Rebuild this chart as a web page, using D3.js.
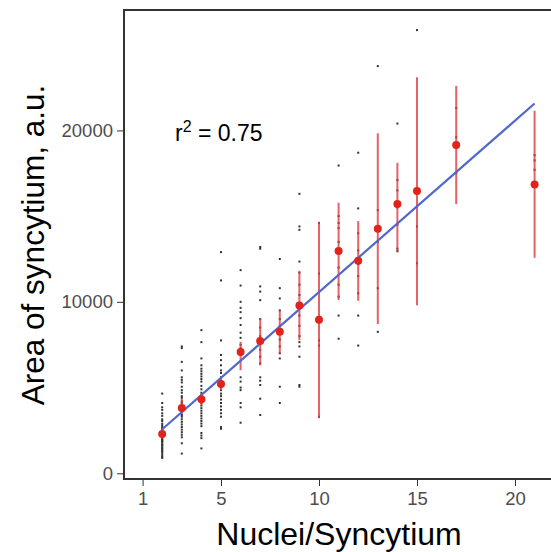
<!DOCTYPE html>
<html>
<head>
<meta charset="utf-8">
<script src="https://cdn.jsdelivr.net/npm/d3@7"></script>
<style>
  body { margin: 0; background: #fff; }
  text { font-family: 'Liberation Sans', Arial, sans-serif; }
</style>
</head>
<body>
<div id="chart"></div>
<script>
// nuclei per syncytium (x groups)
const nuclei = [2, 3, 4, 5, 6, 7, 8, 9, 10, 11, 12, 13, 14, 15, 17, 21]

// group means and error bar ends
const means = [2290, 3810, 4320, 5210, 7080, 7720, 8250, 9790, 8950, 12960, 12390, 14260, 15700, 16460, 19150, 16850]
const errLow = [2050, 3480, 3970, 4850, 6010, 6300, 6990, 7760, 3210, 10100, 10060, 8700, 12920, 9800, 15700, 12570]
const errHigh = [2550, 4360, 4650, 5620, 7670, 9030, 9480, 11810, 14670, 15780, 14710, 19830, 18110, 23100, 22590, 21150]

// raw syncytium areas, one list per group
const rawAreas = [
  [4650, 4100, 3850, 3700, 3500, 3350, 3150, 3050, 2900, 2800, 2700, 2600, 2500, 2450, 2350, 2300, 2200, 2150, 2100, 2000, 1950, 1900, 1850, 1800, 1700, 1650, 1600, 1500, 1450, 1400, 1300, 1250, 1150, 1050, 950, 900],
  [7400, 7300, 6500, 6000, 5600, 5450, 5300, 5050, 4850, 4700, 4500, 4400, 4200, 4100, 3950, 3800, 3700, 3550, 3400, 3300, 3150, 3000, 2850, 2700, 2550, 2400, 2250, 2100, 1750, 1150],
  [8350, 7650, 6700, 6300, 6100, 5950, 5800, 5650, 5500, 5350, 5100, 4900, 4700, 4550, 4400, 4250, 4100, 3950, 3800, 3650, 3500, 3350, 3200, 3050, 2900, 2750, 2350, 2200, 2050, 1450],
  [12900, 11250, 7750, 6900, 6600, 6300, 6000, 5850, 5600, 5400, 5200, 5000, 4850, 4650, 4500, 4300, 4100, 3900, 3700, 3500, 3300, 2700, 2600],
  [11850, 10950, 10000, 9650, 9400, 9050, 8650, 8200, 7900, 7500, 7300, 5600, 5350, 5000, 4850, 4100, 3850, 2950],
  [13200, 13100, 10900, 10600, 10100, 9000, 8500, 8000, 7700, 7200, 6800, 6400, 5600, 5400, 5150, 4350, 3400],
  [12500, 10800, 10200, 9500, 9000, 8600, 8200, 7800, 7400, 7000, 6700, 5050, 4100],
  [16300, 14400, 14200, 12350, 11700, 11000, 10400, 9800, 9200, 8600, 8000, 7650, 7400, 6800, 5150, 5050],
  [14600, 11650, 9000, 7750, 7450, 3300],
  [17950, 15000, 14600, 14300, 13500, 12900, 12000, 11000, 10300, 9200, 7850],
  [18700, 15450, 14000, 13000, 12200, 11500, 10500, 9200, 7450],
  [23750, 15350, 13500, 10800, 8250],
  [20400, 17100, 16500, 15500, 14500, 13100, 12950],
  [25850, 15550, 14400, 12250],
  [21300, 19600, 17500],
  [18550, 18250, 17700]
]

// linear fit
const fitIntercept = 570
const fitSlope = 1000
const rSquared = '0.75'

const xTicks = [1, 5, 10, 15, 20]
const yTicks = [0, 10000, 20000]

const width = 551
const height = 552
const panel = { left: 124, top: 10, right: 560, bottom: 479 }

const svg = d3
  .select('#chart')
  .append('svg')
  .attr('width', width)
  .attr('height', height)

const xPositionScale = d3
  .scaleLinear()
  .domain([1, 20])
  .range([142.6, 515])

const yPositionScale = d3
  .scaleLinear()
  .domain([0, 20000])
  .range([473.3, 130.4])

// raw points
const rawPoints = []
rawAreas.forEach(function(list, i) {
  list.forEach(function(v) {
    rawPoints.push({ n: nuclei[i], area: v })
  })
})

svg
  .selectAll('.raw')
  .data(rawPoints)
  .enter()
  .append('rect')
  .attr('class', 'raw')
  .attr('x', d => xPositionScale(d.n) - 1)
  .attr('y', d => yPositionScale(d.area) - 1)
  .attr('width', 2)
  .attr('height', 2)
  .attr('fill', '#333')

const groups = nuclei.map(function(n, i) {
  return { n: n, mean: means[i], lo: errLow[i], hi: errHigh[i] }
})

// error bars
svg
  .selectAll('.err')
  .data(groups)
  .enter()
  .append('line')
  .attr('class', 'err')
  .attr('x1', d => xPositionScale(d.n))
  .attr('x2', d => xPositionScale(d.n))
  .attr('y1', d => yPositionScale(d.lo))
  .attr('y2', d => yPositionScale(d.hi))
  .attr('stroke', '#df3b42')
  .attr('stroke-opacity', 0.8)
  .attr('stroke-width', 2)

// fit line
svg
  .append('line')
  .attr('x1', xPositionScale(nuclei[0]))
  .attr('y1', yPositionScale(fitIntercept + fitSlope * nuclei[0]))
  .attr('x2', xPositionScale(nuclei[nuclei.length - 1]))
  .attr('y2', yPositionScale(fitIntercept + fitSlope * nuclei[nuclei.length - 1]))
  .attr('stroke', '#5068cc')
  .attr('stroke-width', 2.2)

// means
svg
  .selectAll('.mean')
  .data(groups)
  .enter()
  .append('circle')
  .attr('class', 'mean')
  .attr('cx', d => xPositionScale(d.n))
  .attr('cy', d => yPositionScale(d.mean))
  .attr('r', 4)
  .attr('fill', '#e2231a')

// panel border
svg
  .append('rect')
  .attr('x', panel.left)
  .attr('y', panel.top)
  .attr('width', panel.right - panel.left)
  .attr('height', panel.bottom - panel.top)
  .attr('fill', 'none')
  .attr('stroke', '#333')
  .attr('stroke-width', 2)

// axes
const xAxis = d3.axisBottom(xPositionScale).tickValues(xTicks).tickSize(6).tickPadding(6)
svg
  .append('g')
  .attr('class', 'axis x-axis')
  .attr('transform', 'translate(0,' + (panel.bottom + 1) + ')')
  .call(xAxis)

const yAxis = d3.axisLeft(yPositionScale).tickValues(yTicks).tickSize(6).tickPadding(4).tickFormat(d3.format('d'))
svg
  .append('g')
  .attr('class', 'axis y-axis')
  .attr('transform', 'translate(' + (panel.left - 1) + ',0)')
  .call(yAxis)

svg.selectAll('.axis path').remove()
svg.selectAll('.axis line').attr('stroke', '#333')
svg
  .selectAll('.axis text')
  .attr('fill', '#4d4d4d')
  .style('font-size', '18.5px')
  .style('font-family', "'Liberation Sans', Arial, sans-serif")

// r squared label
const rLabel = svg
  .append('text')
  .attr('x', 175)
  .attr('y', 141)
  .style('font-size', '23px')
  .attr('fill', '#000')
rLabel.append('tspan').text('r')
rLabel.append('tspan').attr('dy', -9).style('font-size', '16px').text('2')
rLabel.append('tspan').attr('dy', 9).text(' = ' + rSquared)

// axis titles
svg
  .append('text')
  .attr('x', 339)
  .attr('y', 545)
  .attr('text-anchor', 'middle')
  .style('font-size', '32px')
  .text('Nuclei/Syncytium')

svg
  .append('text')
  .attr('transform', 'translate(44,245) rotate(-90)')
  .attr('text-anchor', 'middle')
  .style('font-size', '31.5px')
  .text('Area of syncytium, a.u.')
</script>
</body>
</html>
